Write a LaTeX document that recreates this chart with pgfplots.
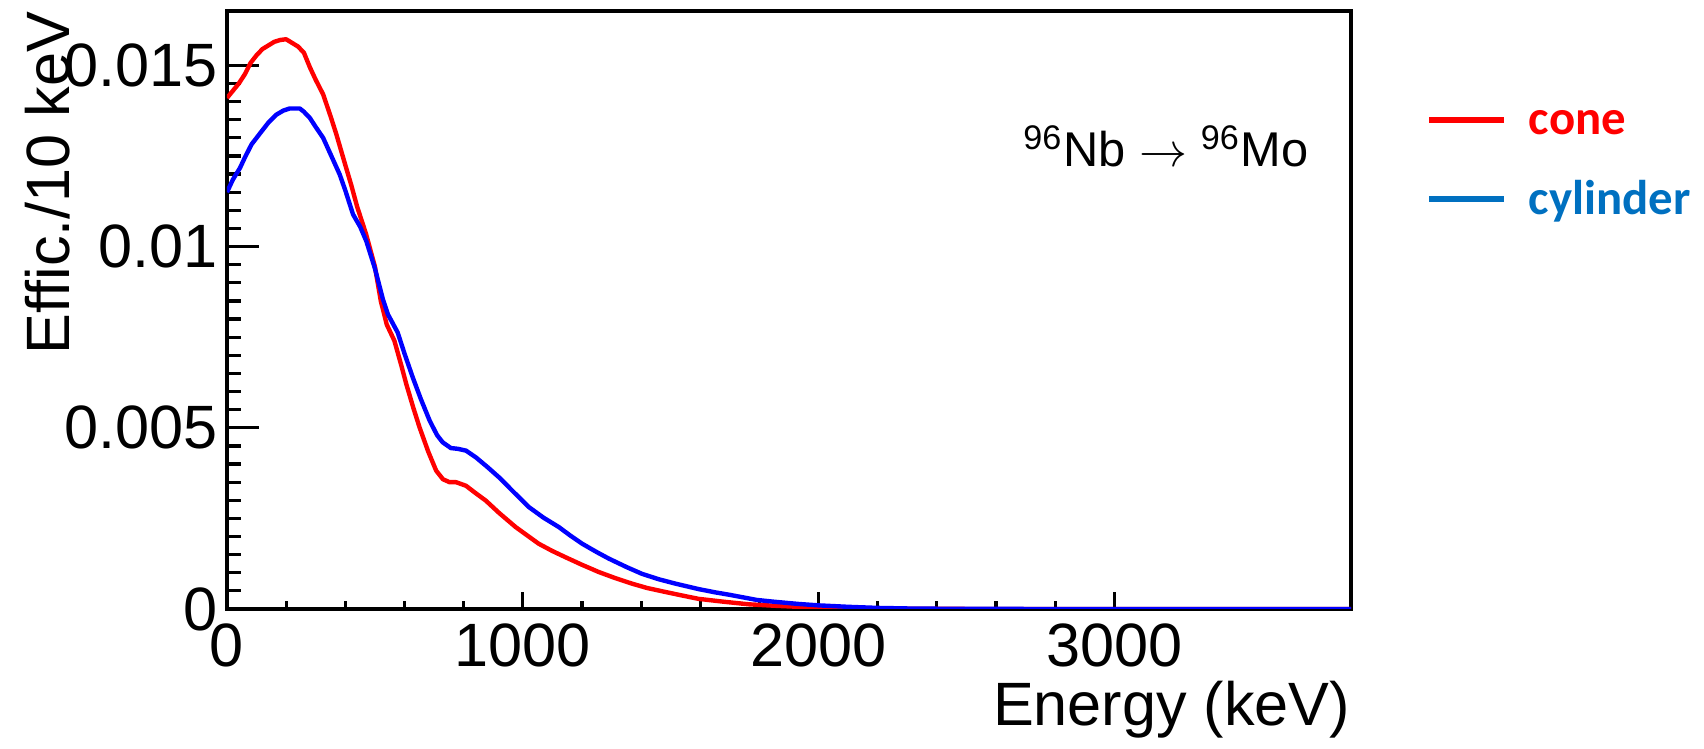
\documentclass[border=0pt]{standalone}
\usepackage{pgfplots}
\usepackage{pgfplotstable}
\pgfplotsset{compat=1.18}
\usepackage{fontspec}
\setmainfont{Liberation Sans}
\newfontfamily\legfont{Carlito}
\definecolor{legblue}{RGB}{0,112,192}
\definecolor{cred}{RGB}{255,0,0}
\definecolor{cblue}{RGB}{0,0,255}
\pgfplotstableread{
E v
0 14.10
20 14.30
40 14.50
60 14.75
80 15.07
100 15.28
120 15.45
140 15.55
160 15.65
180 15.70
200 15.72
220 15.62
240 15.52
260 15.35
280 14.95
300 14.60
325 14.20
350 13.60
370 13.09
400 12.25
420 11.70
440 11.10
470 10.35
500 9.45
520 8.50
540 7.85
566 7.40
590 6.70
606 6.21
630 5.55
651 5.01
680 4.35
707 3.82
730 3.58
752 3.50
774 3.50
808 3.40
840 3.20
875 2.99
920 2.65
976 2.26
1020 2.00
1054 1.80
1100 1.60
1144 1.43
1200 1.22
1257 1.02
1310 0.86
1369 0.70
1420 0.58
1482 0.47
1540 0.37
1594 0.28
1680 0.20
1763 0.13
1850 0.09
1931 0.06
2000 0.03
2100 0.015
2200 0.007
2400 0.002
2600 0.0005
3000 0
3800 0
}\cone
\pgfplotstableread{
E v
0 11.50
20 11.85
44 12.17
60 12.45
83 12.82
100 13.00
117 13.18
140 13.42
167 13.64
190 13.75
212 13.81
246 13.81
260 13.72
280 13.55
300 13.30
325 13.00
350 12.55
381 11.99
400 11.55
426 10.89
450 10.55
471 10.15
500 9.40
527 8.55
544 8.13
577 7.63
600 7.05
628 6.39
655 5.80
685 5.20
710 4.80
729 4.60
757 4.44
780 4.42
808 4.37
842 4.18
880 3.92
920 3.63
970 3.22
1021 2.81
1070 2.52
1122 2.26
1160 2.03
1201 1.80
1250 1.57
1291 1.39
1350 1.16
1403 0.97
1460 0.82
1516 0.70
1594 0.55
1650 0.46
1700 0.39
1791 0.25
1850 0.20
1931 0.14
2000 0.10
2100 0.06
2200 0.03
2300 0.015
2400 0.008
2600 0.002
2800 0.0005
3000 0
3800 0
}\cyl
\begin{document}
\begin{tikzpicture}
\begin{axis}[name=ax, scale only axis, width=281pt, height=149.5pt,
 xmin=0, xmax=3800, ymin=0, ymax=0.0165,
 axis line style={line width=1pt},
 xtick={0,1000,2000,3000}, xticklabels={0,1000,2000,3000},
 ytick={0,0.005,0.01,0.015}, yticklabels={0,0.005,0.01,0.015},
 scaled y ticks=false, scaled x ticks=false,
 minor x tick num=4, minor y tick num=9,
 xtick pos=bottom, ytick pos=left, tick align=inside,
 tick style={line width=0.8pt, black},
 xtick style={/pgfplots/major tick length=4.2pt, /pgfplots/minor tick length=1.9pt},
 ytick style={/pgfplots/major tick length=7.9pt, /pgfplots/minor tick length=3.5pt},
 tick label style={font=\fontsize{15.3}{18}\selectfont, inner sep=0pt},
 xticklabel style={yshift=-3.5pt},
 yticklabel style={xshift=-2.25pt},
 label style={font=\fontsize{15.3}{18}\selectfont, inner sep=0pt},
 xlabel={Energy (keV)}, ylabel={Effic./10 keV},
 xlabel style={at={(rel axis cs:1,-0.194)}, anchor=base east},
 ylabel style={at={(rel axis cs:-0.1397,1)}, anchor=base east},
 legend cell align=left,
 legend image code/.code={\draw[#1, line width=1.5pt] (0pt,0pt) -- (18.75pt,0pt);},
 legend style={draw=none, fill=none, at={(1,1)}, anchor=north west, xshift=18.6pt, yshift=-23.3pt,
   inner sep=0pt, row sep=12.3pt, column sep=5.4pt,
   font=\legfont\bfseries\fontsize{12.2}{14}\selectfont,
   nodes={inner sep=0pt, text height=7.5pt, text depth=0pt}},
]
\addplot[forget plot, cred, line width=1.1pt, line join=round] table[x=E, y expr=\thisrow{v}/1000] {\cone};
\addplot[forget plot, cblue, line width=1.1pt, line join=round] table[x=E, y expr=\thisrow{v}/1000] {\cyl};
\addlegendimage{cred}
\addlegendentry{\textcolor{cred}{cone}}
\addlegendimage{legblue}
\addlegendentry{\textcolor{legblue}{cylinder}}
\node[anchor=base west, font=\fontsize{12.2}{14}\selectfont, inner sep=0pt] at (axis cs:2690,0.0122) {\textsuperscript{96}Nb $\rightarrow$ \textsuperscript{96}Mo};
\end{axis}
\pgfresetboundingbox
\path ([shift={(-56.75pt,-35pt)}]ax.south west) rectangle ([shift={(88.25pt,2.75pt)}]ax.north east);
\end{tikzpicture}
\end{document}
